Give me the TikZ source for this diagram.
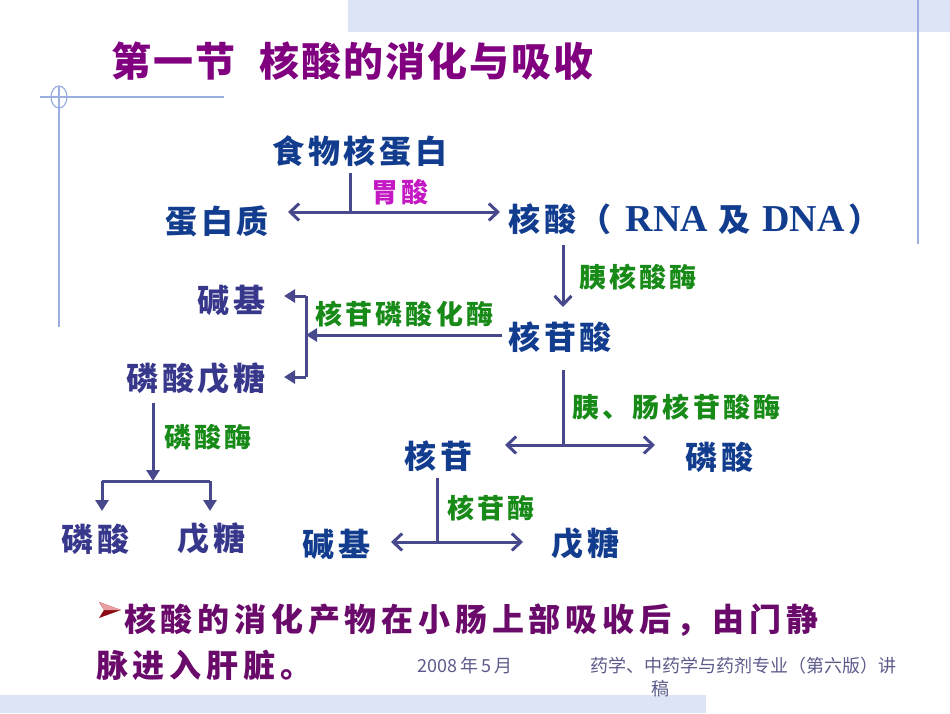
\documentclass[tikz,border=0pt]{standalone}
\usepackage{fontspec}
\setmainfont{Noto Sans CJK SC}
\newfontfamily\tnr{Liberation Serif}
\usetikzlibrary{arrows.meta}
\definecolor{titlepurple}{HTML}{800080}
\definecolor{textpurple}{HTML}{6A0A6A}
\definecolor{mainblue}{HTML}{123C8E}
\definecolor{slateblue}{HTML}{37378C}
\definecolor{enzgreen}{HTML}{178A17}
\definecolor{acidmag}{HTML}{C418C4}
\definecolor{arrowc}{HTML}{48488C}
\definecolor{decoline}{HTML}{9AAEE0}
\definecolor{band}{HTML}{DCE4F6}
\definecolor{footc}{HTML}{5C5C8C}
\definecolor{bulletred}{HTML}{8C0A14}
\definecolor{bulletlight}{HTML}{E8A0A0}
\tikzset{
  mainnode/.style={inner sep=0pt, text=mainblue, anchor=west,
    font=\fontsize{32}{36}\selectfont\bfseries\addfontfeature{LetterSpace=12}},
  sidenode/.style={mainnode, text=slateblue},
  enzlabel/.style={inner sep=0pt, text=enzgreen, anchor=west,
    font=\fontsize{27}{30}\selectfont\bfseries\addfontfeature{LetterSpace=12}},
  acidlabel/.style={enzlabel, text=acidmag},
  conn/.style={draw=arrowc, line width=3pt},
  openarr/.style={conn, -{Straight Barb[length=9pt,width=17pt,line width=3pt]}},
  openboth/.style={conn, {Straight Barb[length=9pt,width=17pt,line width=3pt]}-{Straight Barb[length=9pt,width=17pt,line width=3pt]}},
  fillarr/.style={conn, -{Triangle[length=11pt,width=13pt]}},
  deco/.style={draw=decoline, line width=1.2pt},
  footer/.style={inner sep=0pt, text=footc, font=\fontsize{18}{22}\selectfont},
  bodytext/.style={inner sep=0pt, text=textpurple, anchor=west,
    font=\fontsize{32}{40}\selectfont\bfseries\addfontfeature{LetterSpace=15}}
}
\begin{document}
\begin{tikzpicture}[x=1pt,y=-1pt]
\useasboundingbox (0,0) rectangle (950,713);
\fill[white] (0,0) rectangle (950,713);
% decorations
\fill[band] (348,0) rectangle (950,32);
\fill[band] (0,695) rectangle (706,713);
\draw[deco] (918,0) -- (918,244);
\draw[deco] (40,97) -- (224,97);
\draw[deco] (59,86) -- (59,327);
\draw[deco] (59,97) ellipse [x radius=8, y radius=11];
% title
\node[inner sep=0pt, anchor=west, text=titlepurple,
  font=\fontsize{40}{44}\selectfont\bfseries\addfontfeature{LetterSpace=5}] (title) at (111,61)
  {第一节\hspace{24pt}核酸的消化与吸收};
% nodes
\node[mainnode] (food) at (272,151) {食物核蛋白};
\node[mainnode] (prot) at (165,221) {蛋白质};
\node[mainnode] (na) at (508,219) {核酸（\hspace{14pt}{\tnr\bfseries\fontsize{38}{38}\selectfont RNA}\hspace{10pt}及\hspace{12pt}{\tnr\bfseries\fontsize{38}{38}\selectfont DNA}\hspace{4pt}）};
\node[mainnode] (nt) at (508,337) {核苷酸};
\node[sidenode] (base1) at (197,300) {碱基};
\node[sidenode] (pp) at (126,379) {磷酸戊糖};
\node[sidenode] (pa1) at (61,539) {磷酸};
\node[sidenode] (pe1) at (177,539) {戊糖};
\node[mainnode] (ns) at (404,456) {核苷};
\node[mainnode] (pa2) at (685,457) {磷酸};
\node[mainnode] (base2) at (302,544) {碱基};
\node[mainnode] (pe2) at (551,544) {戊糖};
% labels
\node[acidlabel] (l1) at (371,192) {胃酸};
\node[enzlabel] (l2) at (579,277) {胰核酸酶};
\node[enzlabel] (l3) at (315,314) {核苷磷酸化酶};
\node[enzlabel] (l4) at (164,437) {磷酸酶};
\node[enzlabel] (l5) at (572,407) {胰、肠核苷酸酶};
\node[enzlabel] (l6) at (447,508) {核苷酶};
% connector coordinates
\coordinate (s1) at (350,173);
\coordinate (j1) at (350,212);
\coordinate (t1a) at (288,212);
\coordinate (t1b) at (500,212);
\coordinate (s2a) at (563,245);
\coordinate (s2b) at (563,307);
\coordinate (s3) at (502,335);
\coordinate (j2) at (306,335);
\coordinate (b1) at (306,296);
\coordinate (b2) at (306,377);
\coordinate (tb1) at (284,296);
\coordinate (tb2) at (284,377);
\coordinate (s4) at (153,403);
\coordinate (j3) at (153,481);
\coordinate (h3a) at (102,481);
\coordinate (h3b) at (210,481);
\coordinate (t3a) at (102,511);
\coordinate (t3b) at (210,511);
\coordinate (s5) at (563,370);
\coordinate (j4) at (563,445);
\coordinate (t4a) at (505,445);
\coordinate (t4b) at (655,445);
\coordinate (s6) at (437,478);
\coordinate (j5) at (437,542);
\coordinate (t5a) at (391,542);
\coordinate (t5b) at (523,542);
% connectors
\draw[conn] (s1) -- (j1);
\draw[openboth] (t1a) -- (t1b);
\draw[openarr] (s2a) -- (s2b);
\draw[fillarr] (s3) -- (j2);
\draw[conn] (b1) -- (b2);
\draw[fillarr] (b1) -- (tb1);
\draw[fillarr] (b2) -- (tb2);
\draw[fillarr] (s4) -- (j3);
\draw[conn] (h3a) -- (h3b);
\draw[fillarr] (h3a) -- (t3a);
\draw[fillarr] (h3b) -- (t3b);
\draw[conn] (s5) -- (j4);
\draw[openboth] (t4a) -- (t4b);
\draw[conn] (s6) -- (j5);
\draw[openboth] (t5a) -- (t5b);
% bullet text
\fill[bulletred] (99,602) -- (121,610) -- (99,618) -- (104,610) -- cycle;
\fill[bulletlight] (99,602) -- (121,610) -- (104,610) -- cycle;
\node[bodytext] (body1) at (124,620) {核酸的消化产物在小肠上部吸收后，由门静};
\node[bodytext] (body2) at (96,665) {脉进入肝脏。};
% footer
\node[footer, anchor=west] (date) at (417,666) {2008\,年\,5\,月};
\node[footer, anchor=west] (src1) at (590,666) {药学、中药学与药剂专业（第六版）讲};
\node[footer, anchor=west] (src2) at (651,689) {稿};
\end{tikzpicture}
\end{document}
